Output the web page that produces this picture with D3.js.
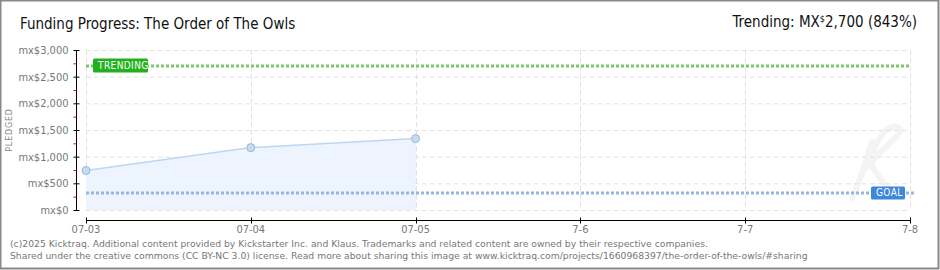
<!DOCTYPE html>
<html>
<head>
<meta charset="utf-8">
<script src="https://cdn.jsdelivr.net/npm/d3@7"></script>
<style>
  html, body { margin: 0; padding: 0; background: #fff; }
  svg { display: block; }
  .tick-label { font-family: "DejaVu Sans Condensed", "DejaVu Sans", sans-serif; font-size: 11px; fill: #777; }
  .footer { font-family: "DejaVu Sans", Verdana, sans-serif; font-size: 9.25px; fill: #777; }
</style>
</head>
<body>
<div id="chart"></div>
<script>
// ── Data ────────────────────────────────────────────────
const dates = ['2025-07-03', '2025-07-04', '2025-07-05', '2025-07-06', '2025-07-07', '2025-07-08'];
const dateLabels = ['07-03', '07-04', '07-05', '7-6', '7-7', '7-8'];
const pledged = [740, 1170, 1340];          // one value per day so far
const yTicks = [0, 500, 1000, 1500, 2000, 2500, 3000];
const goal = 320;
const trending = 2700;

const W = 940, H = 270;
const parse = d3.timeParse('%Y-%m-%d');
const days = dates.map(parse);

const svg = d3.select('#chart').append('svg')
  .attr('width', W).attr('height', H);

// frame
svg.append('rect')
  .attr('x', 0.5).attr('y', 0.5).attr('width', W - 2).attr('height', H - 2)
  .attr('fill', '#fff').attr('stroke', '#888').attr('stroke-width', 2);

const x = d3.scaleTime().domain([days[0], days[days.length - 1]]).range([86, 910]);
const y = d3.scaleLinear().domain([0, 3000]).range([210, 50]);

// faint "K" watermark, drawn as strokes
svg.append('path')
  .attr('d', 'M872,142 C866,160 860,182 852,198 M864,170 C880,150 895,140 900,132 C902,126 892,124 884,132 C876,142 870,156 872,166 C878,178 888,188 896,196')
  .attr('fill', 'none').attr('stroke', '#f4f4f4').attr('stroke-width', 6)
  .attr('stroke-linecap', 'round');

// ── Title ───────────────────────────────────────────────
svg.append('text')
  .attr('x', 20).attr('y', 29)
  .attr('font-family', '"DejaVu Sans Condensed", sans-serif')
  .attr('font-size', 15).attr('fill', '#111')
  .text('Funding Progress: The Order of The Owls');

const trendText = svg.append('text')
  .attr('x', 917).attr('y', 27).attr('text-anchor', 'end')
  .attr('font-family', '"DejaVu Sans Condensed", sans-serif')
  .attr('font-size', 15).attr('fill', '#111');
trendText.append('tspan').text('Trending:  MX');
trendText.append('tspan').attr('font-size', 9).attr('dy', -5).text('$');
trendText.append('tspan').attr('dy', 5).text(d3.format(',')(trending) + ' (843%)');

// ── Grid ────────────────────────────────────────────────
const grid = svg.append('g');
grid.selectAll('line.h').data(yTicks).enter().append('line')
  .attr('x1', x(days[0])).attr('x2', x(days[days.length - 1]))
  .attr('y1', d => y(d) + 0.5).attr('y2', d => y(d) + 0.5)
  .attr('stroke', '#e2e2e2').attr('stroke-dasharray', '5,3');
grid.selectAll('line.v').data(days).enter().append('line')
  .attr('x1', d => Math.round(x(d)) + 0.5).attr('x2', d => Math.round(x(d)) + 0.5)
  .attr('y1', y(3000)).attr('y2', y(0))
  .attr('stroke', '#e2e2e2').attr('stroke-dasharray', '5,3');

// ── Area + line ─────────────────────────────────────────
const series = pledged.map((v, i) => ({ d: days[i], v }));
svg.append('path').datum(series)
  .attr('d', d3.area().x(d => x(d.d)).y0(y(0)).y1(d => y(d.v)))
  .attr('fill', '#edf4fd');
svg.append('line')
  .attr('x1', x(series[series.length - 1].d) + 0.5).attr('x2', x(series[series.length - 1].d) + 0.5)
  .attr('y1', y(series[series.length - 1].v)).attr('y2', y(0))
  .attr('stroke', '#d6e3f3').attr('stroke-dasharray', '5,3');
svg.append('path').datum(series)
  .attr('d', d3.line().x(d => x(d.d)).y(d => y(d.v)))
  .attr('fill', 'none').attr('stroke', '#bcd6f2').attr('stroke-width', 1.5);

// ── Goal & trending lines ──────────────────────────────
svg.append('line')
  .attr('x1', x(days[0])).attr('x2', 914)
  .attr('y1', y(goal)).attr('y2', y(goal))
  .attr('stroke', '#93b6e2').attr('stroke-width', 3).attr('stroke-dasharray', '3,2');
svg.append('line')
  .attr('x1', x(days[0])).attr('x2', x(days[days.length - 1]))
  .attr('y1', y(trending)).attr('y2', y(trending))
  .attr('stroke', '#79c96a').attr('stroke-width', 3).attr('stroke-dasharray', '3,2');

// points
svg.selectAll('circle.pt').data(series).enter().append('circle')
  .attr('cx', d => x(d.d)).attr('cy', d => y(d.v)).attr('r', 4)
  .attr('fill', '#c5dcf5').attr('stroke', '#98b6d9').attr('stroke-width', 1);

// labels
function badge(bx, by, bw, bh, fill, label) {
  svg.append('rect').attr('x', bx).attr('y', by).attr('width', bw).attr('height', bh)
    .attr('rx', 1.5).attr('fill', fill);
  svg.append('text').attr('x', bx + 5).attr('y', by + bh - 3.5)
    .attr('font-family', '"DejaVu Sans Condensed", sans-serif')
    .attr('font-size', 10).attr('fill', '#fff').attr('letter-spacing', 0.4)
    .text(label);
}
badge(93, y(trending) - 7.5, 55, 14, '#22b01c', 'TRENDING');
badge(871, y(goal) - 6.5, 34, 13, '#3d88d8', 'GOAL');

// ── Y axis ─────────────────────────────────────────────
const yAxisG = svg.append('g').attr('transform', 'translate(76.5,0)');
yAxisG.append('line').attr('y1', y(3000)).attr('y2', y(0) + 1)
  .attr('stroke', '#000');
yAxisG.selectAll('line.major').data(yTicks).enter().append('line')
  .attr('x1', -3).attr('x2', 3).attr('y1', d => y(d) + 0.5).attr('y2', d => y(d) + 0.5)
  .attr('stroke', '#000');
yAxisG.selectAll('line.minor').data(yTicks.slice(0, -1).map(d => d + 250)).enter().append('line')
  .attr('x1', -3).attr('x2', 0).attr('y1', d => y(d) + 0.5).attr('y2', d => y(d) + 0.5)
  .attr('stroke', '#e00000');
yAxisG.selectAll('text').data(yTicks).enter().append('text')
  .attr('class', 'tick-label')
  .attr('x', -8).attr('y', d => y(d) + 4).attr('text-anchor', 'end')
  .text(d => 'mx$' + d3.format(',')(d));

svg.append('text')
  .attr('transform', `translate(12,${y(1500)}) rotate(-90)`)
  .attr('text-anchor', 'middle')
  .attr('font-family', '"DejaVu Sans", sans-serif').attr('font-size', 8)
  .attr('letter-spacing', 0.8).attr('fill', '#888')
  .text('PLEDGED');

// ── X axis ─────────────────────────────────────────────
const xAxisG = svg.append('g').attr('transform', 'translate(0,220.5)');
xAxisG.append('line').attr('x1', x(days[0])).attr('x2', x(days[days.length - 1]))
  .attr('stroke', '#000');
xAxisG.selectAll('line.t').data(days).enter().append('line')
  .attr('x1', d => Math.round(x(d)) + 0.5).attr('x2', d => Math.round(x(d)) + 0.5)
  .attr('y1', -3).attr('y2', 3).attr('stroke', '#000');
xAxisG.selectAll('text').data(days).enter().append('text')
  .attr('class', 'tick-label')
  .attr('x', d => x(d)).attr('y', 12).attr('text-anchor', 'middle')
  .text((d, i) => dateLabels[i]);

// ── Footer ─────────────────────────────────────────────
svg.append('text').attr('class', 'footer').attr('x', 10).attr('y', 247)
  .text('(c)2025 Kicktraq. Additional content provided by Kickstarter Inc. and Klaus. Trademarks and related content are owned by their respective companies.');
svg.append('text').attr('class', 'footer').attr('x', 10).attr('y', 259)
  .text('Shared under the creative commons (CC BY-NC 3.0) license. Read more about sharing this image at www.kicktraq.com/projects/1660968397/the-order-of-the-owls/#sharing');
</script>
</body>
</html>
